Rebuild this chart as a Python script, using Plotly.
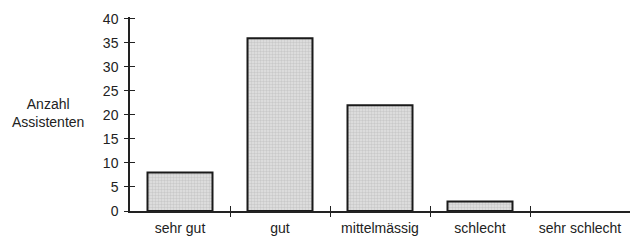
import plotly.graph_objects as go

categories = ["sehr gut", "gut", "mittelmässig", "schlecht", "sehr schlecht"]
values = [8, 36, 22, 2, 0]
y_ticks = [0, 5, 10, 15, 20, 25, 30, 35, 40]

font = dict(family="Liberation Sans, Arial, sans-serif", size=14, color="#222")

fig = go.Figure()
fig.add_trace(go.Bar(
    x=categories, y=values, width=0.65,
    marker=dict(color="#d0d0d0",
                line=dict(color="#1a1a1a", width=[2 if v > 0 else 0 for v in values]),
                pattern=dict(shape=".", fgcolor="#b0b0b0", bgcolor="#e2e2e2", size=3, solidity=0.5)),
    showlegend=False, hoverinfo="skip",
))
fig.update_layout(
    width=630, height=241,
    margin=dict(l=130, r=0, t=17, b=30),
    paper_bgcolor="white", plot_bgcolor="white",
    font=font,
    bargap=0.35,
    xaxis=dict(type="category", categoryarray=categories, range=[-0.5, 4.5], automargin=False,
               showline=True, linecolor="#222", linewidth=1.5,
               ticks="inside", tickson="boundaries", ticklen=5, tickwidth=1.3, tickcolor="#222",
               showgrid=False, zeroline=False, tickfont=font, ticklabelstandoff=3),
    xaxis2=dict(overlaying="x", range=[-0.5, 4.5], tickvals=[0.5, 1.5, 2.5, 3.5], automargin=False,
                ticks="outside", ticklen=5, tickwidth=1.3, tickcolor="#222",
                showticklabels=False, showline=False, showgrid=False, zeroline=False),
    yaxis=dict(range=[0, 40.4], tickvals=y_ticks, showline=True, linecolor="#222", linewidth=1.5,
               ticks="inside", ticklen=5, tickwidth=1.3, tickcolor="#222", automargin=False,
               showgrid=False, zeroline=False, tickfont=font, ticklabelstandoff=7),
    yaxis2=dict(overlaying="y", range=[0, 40.4], tickvals=y_ticks, side="left", automargin=False,
                ticks="outside", ticklen=5, tickwidth=1.3, tickcolor="#222",
                showticklabels=False, showline=False, showgrid=False, zeroline=False),
)
fig.add_trace(go.Scatter(x=[None], y=[None], xaxis="x2", yaxis="y2", showlegend=False, hoverinfo="skip"))
fig.add_annotation(text="Anzahl<br>Assistenten", xref="paper", yref="paper", x=-0.164, y=0.505,
                   xanchor="center", yanchor="middle", showarrow=False, font=font, align="center")
fig.write_html("out.html", config={"displayModeBar": False},
               post_script="document.body.style.margin='0px';")
